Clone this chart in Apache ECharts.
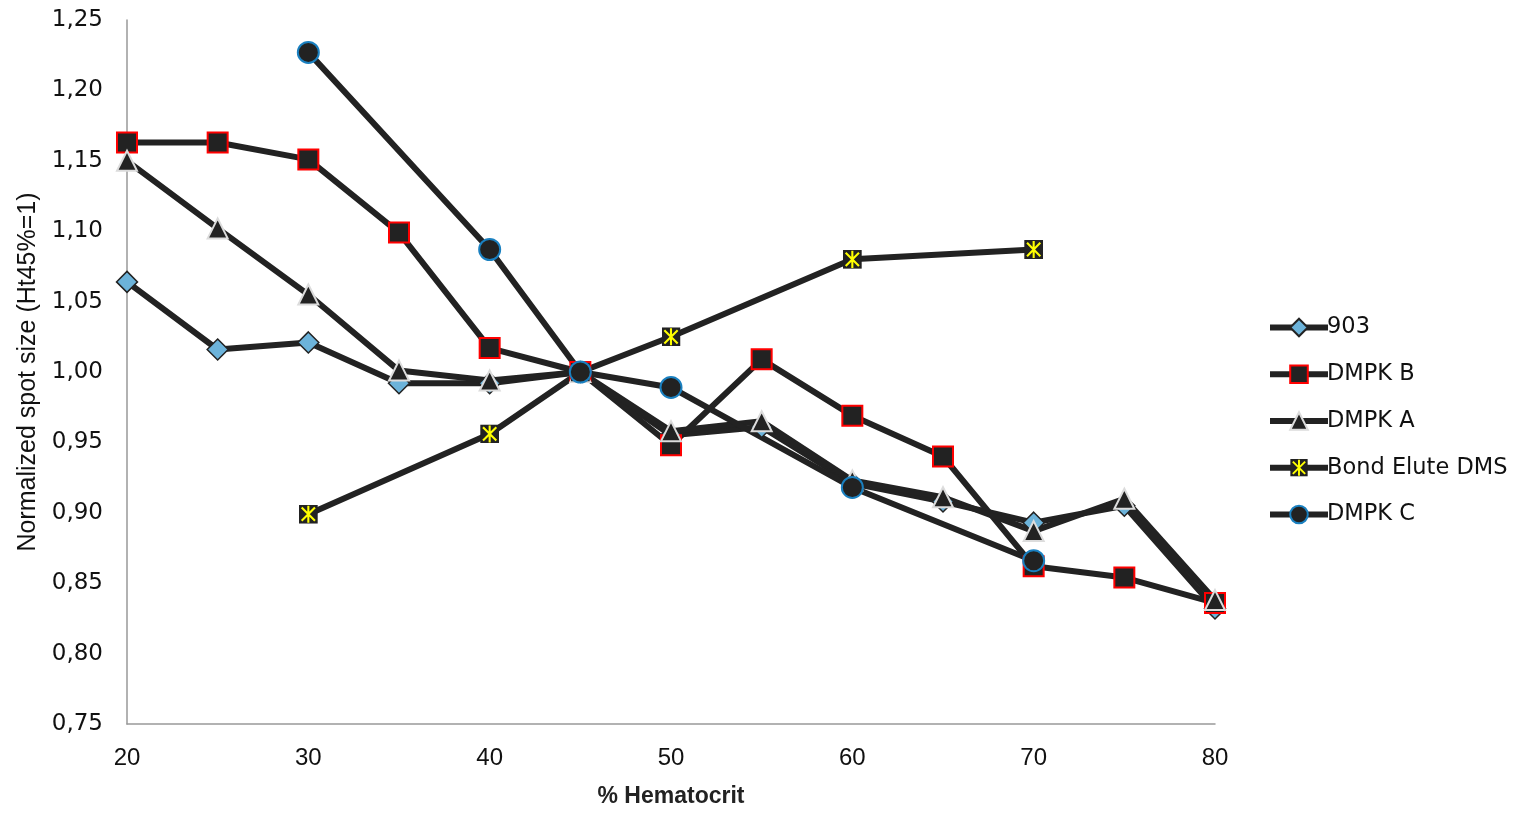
<!DOCTYPE html>
<html><head><meta charset="utf-8">
<script src="https://cdn.jsdelivr.net/npm/echarts@6/dist/echarts.min.js"></script>
<style>html,body{margin:0;padding:0;background:#fff}#c{width:1528px;height:815px}</style>
</head><body><div id="c"></div>
<script>
const seriesNames = ['903', 'DMPK B', 'DMPK A', 'Bond Elute DMS', 'DMPK C'];
const xFull = [20, 25, 30, 35, 40, 45, 50, 55, 60, 65, 70, 75, 80];
const y903 = [1.064, 1.016, 1.021, 0.992, 0.992, 1.000, 0.955, 0.961, 0.921, 0.908, 0.893, 0.905, 0.832];
const yDmpkB = [1.163, 1.163, 1.151, 1.099, 1.017, 1.000, 0.948, 1.009, 0.969, 0.940, 0.862, 0.854, 0.836];
const yDmpkA = [1.150, 1.102, 1.055, 1.001, 0.994, 1.000, 0.958, 0.965, 0.923, 0.911, 0.887, 0.910, 0.838];
const xBond = [30, 40, 45, 50, 60, 70];
const yBond = [0.899, 0.956, 1.000, 1.025, 1.080, 1.087];
const xDmpkC = [30, 40, 45, 50, 60, 70];
const yDmpkC = [1.227, 1.087, 1.000, 0.989, 0.918, 0.866];

const pairs = (xs, ys) => xs.map((x, i) => [x, ys[i]]);
const bondSvg = "<svg xmlns='http://www.w3.org/2000/svg' width='20' height='20'><rect width='20' height='20' fill='#222'/><path d='M3 3L17 17M17 3L3 17M10 1V19' stroke='#ffff00' stroke-width='2.2'/></svg>";
const bondSymbol = 'image://data:image/svg+xml;charset=utf-8,' + encodeURIComponent(bondSvg);

const lineStyle = { color: '#222', width: 6 };
const chart = echarts.init(document.getElementById('c'), null, { renderer: 'canvas' });
const numFont = 'DejaVu Sans';
const narrow = 'Liberation Sans Narrow, Liberation Sans';
chart.setOption({
  animation: false,
  backgroundColor: '#fff',
  grid: { left: 127, right: 313, top: 20, bottom: 91, containLabel: false },
  legend: {
    orient: 'vertical', left: 1262, top: 311, itemWidth: 58, itemHeight: 22, itemGap: 23.75,
    data: seriesNames,
    lineStyle: { width: 6, color: '#222' },
    textStyle: { fontFamily: numFont, fontSize: 22.5, color: '#111', padding: [0, 0, 0, -6] }
  },
  xAxis: {
    type: 'value', min: 20, max: 80, interval: 10,
    name: '% Hematocrit', nameLocation: 'middle', nameGap: 61,
    nameTextStyle: { fontFamily: narrow, fontSize: 23, fontWeight: 'bold', color: '#222' },
    axisLine: { lineStyle: { color: '#999', width: 1.5 } },
    axisTick: { show: false }, splitLine: { show: false },
    axisLabel: { fontFamily: narrow, fontSize: 24, color: '#111', margin: 22 }
  },
  yAxis: {
    type: 'value', min: 0.75, max: 1.25, interval: 0.05,
    name: 'Normalized spot size (Ht45%=1)', nameLocation: 'middle', nameGap: 84, nameRotate: 90,
    nameTextStyle: { fontFamily: narrow, fontSize: 25, color: '#111' },
    axisLine: { show: true, lineStyle: { color: '#999', width: 1.5 } },
    axisTick: { show: false }, splitLine: { show: false },
    axisLabel: { fontFamily: numFont, fontSize: 23, color: '#111', margin: 24,
      formatter: v => v.toFixed(2).replace('.', ',') }
  },
  series: [
    { name: '903', type: 'line', data: pairs(xFull, y903), symbol: 'diamond', symbolSize: 21,
      lineStyle, itemStyle: { color: '#6cb3da', borderColor: '#222', borderWidth: 1.5 } },
    { name: 'DMPK B', type: 'line', data: pairs(xFull, yDmpkB), symbol: 'rect', symbolSize: 20,
      lineStyle, itemStyle: { color: '#222', borderColor: '#ff0000', borderWidth: 2 } },
    { name: 'DMPK A', type: 'line', data: pairs(xFull, yDmpkA), symbol: 'triangle', symbolSize: 20,
      lineStyle, itemStyle: { color: '#222', borderColor: '#dcdcdc', borderWidth: 2 } },
    { name: 'Bond Elute DMS', type: 'line', data: pairs(xBond, yBond), symbol: bondSymbol, symbolSize: 19,
      lineStyle, itemStyle: { color: '#222' } },
    { name: 'DMPK C', type: 'line', data: pairs(xDmpkC, yDmpkC), symbol: 'circle', symbolSize: 21,
      lineStyle, itemStyle: { color: '#222', borderColor: '#1a80c0', borderWidth: 2 } }
  ]
});
</script></body></html>
